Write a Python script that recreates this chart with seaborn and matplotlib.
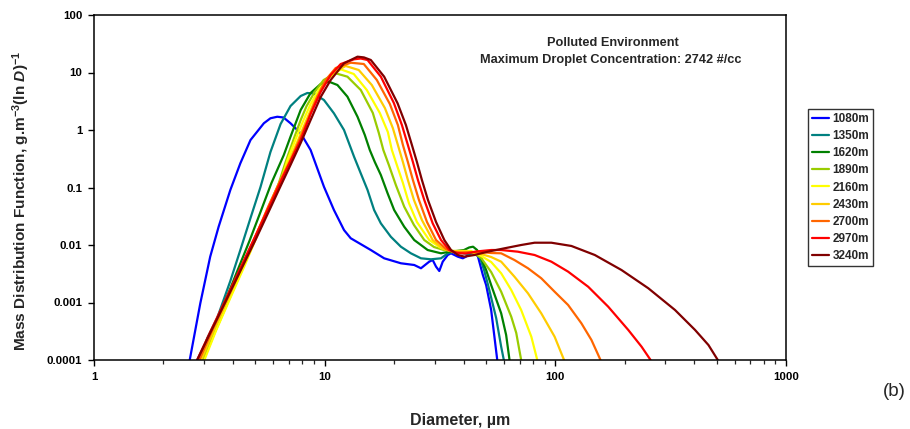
import matplotlib
matplotlib.use("Agg")
import matplotlib.pyplot as plt
import pandas as pd
import seaborn as sns
from matplotlib.ticker import FixedLocator, NullFormatter, NullLocator

# Altitude labels and their line colours
altitudes = ["1080m", "1350m", "1620m", "1890m", "2160m", "2430m", "2700m", "2970m", "3240m"]
colors = ["#0000FF", "#008080", "#008000", "#99CC00", "#FFFF00",
          "#FFCC00", "#FF6600", "#FF0000", "#800000"]

# Diameter (um) and mass distribution function (g m^-3 (ln D)^-1) per altitude
d_1080 = [2.6, 2.89, 3.19, 3.47, 3.90, 4.31, 4.77, 5.45, 5.82, 6.23, 6.63, 7.11, 7.87, 8.69, 9.93,
          10.97, 12.13, 12.97, 15.85, 18.11, 21.4, 24.45, 26.15, 28.4, 29.4, 30.4, 31.4, 32.5,
          34.16, 35.3, 37.76, 39.7, 41.0, 43.13, 46.12, 48.5, 50.12, 52.7, 56.0]
m_1080 = [1e-4, 9.7e-4, 6.27e-3, 0.0208, 0.0906, 0.264, 0.670, 1.31, 1.60, 1.70, 1.65, 1.31, 0.877,
          0.449, 0.103, 0.0406, 0.0182, 0.0131, 0.00818, 0.00587, 0.00481, 0.00449, 0.00394,
          0.00513, 0.00548, 0.0042, 0.00353, 0.00513, 0.0067, 0.00717, 0.00627, 0.00587, 0.00627,
          0.00755, 0.00645, 0.00301, 0.00201, 0.00074, 1e-4]

d_1350 = [2.86, 3.10, 3.42, 3.90, 4.31, 4.77, 5.27, 5.82, 6.44, 7.11, 7.87, 8.41, 8.98, 9.93,
          10.97, 12.13, 13.41, 14.34, 15.34, 16.38, 17.52, 19.36, 21.4, 23.65, 26.15, 28.9,
          31.94, 34.16, 36.0, 39.03, 42.3, 44.9, 47.2, 49.1, 51.1, 55.4, 58.24, 59.8]
m_1350 = [1e-4, 2.41e-4, 5.37e-4, 2.37e-3, 8.18e-3, 0.0295, 0.102, 0.414, 1.27, 2.61, 3.90, 4.40,
          4.31, 3.32, 1.95, 1.0, 0.343, 0.176, 0.0906, 0.0406, 0.0238, 0.0139, 0.00934, 0.00717,
          0.00587, 0.00564, 0.00587, 0.00717, 0.00755, 0.00726, 0.00696, 0.00726, 0.00594,
          0.00367, 0.00201, 5.37e-4, 1.70e-4, 1e-4]

d_1620 = [2.92, 3.26, 3.71, 4.18, 4.72, 5.27, 5.88, 6.65, 7.11, 7.87, 8.69, 9.61, 10.44, 11.36,
          12.55, 13.88, 14.93, 15.69, 16.50, 17.52, 18.74, 20.01, 22.12, 24.45, 27.96, 31.94,
          34.7, 37.5, 40.2, 42.3, 44.0, 45.8, 47.68, 50.12, 52.7, 58.24, 61.2, 63.3]
m_1620 = [1e-4, 2.95e-4, 1.06e-3, 3.53e-3, 0.01175, 0.0375, 0.120, 0.367, 0.764, 2.23, 4.40,
          6.31, 6.92, 6.06, 3.80, 1.70, 0.818, 0.449, 0.277, 0.165, 0.0793, 0.0406, 0.0208,
          0.0122, 0.00818, 0.00717, 0.00765, 0.00787, 0.00818, 0.00906, 0.00934, 0.00818,
          0.00594, 0.00367, 0.00201, 6.48e-4, 2.72e-4, 1e-4]

d_1890 = [2.98, 3.36, 3.86, 4.44, 5.06, 5.71, 6.31, 6.77, 7.37, 7.87, 8.35, 9.05, 9.90, 11.16,
          12.55, 14.34, 16.17, 17.17, 17.96, 18.98, 20.36, 22.12, 24.38, 27.03, 29.78, 32.9,
          36.0, 39.8, 43.13, 47.68, 52.7, 58.24, 64.4, 67.7, 71.1]
m_1890 = [1e-4, 3.19e-4, 1.15e-3, 4.14e-3, 0.01436, 0.0439, 0.115, 0.277, 0.726, 1.49, 2.61,
          4.58, 7.41, 9.69, 8.46, 4.96, 1.98, 0.887, 0.449, 0.246, 0.110, 0.0464, 0.0223,
          0.0122, 0.00923, 0.00818, 0.00787, 0.00787, 0.00771, 0.00594, 0.00339, 1.54e-3,
          5.66e-4, 2.95e-4, 1e-4]

d_2160 = [3.01, 3.39, 3.90, 4.49, 5.11, 5.77, 6.44, 6.90, 7.52, 8.10, 8.69, 9.42, 10.41, 11.74,
          13.37, 15.23, 17.34, 18.79, 19.56, 20.56, 21.84, 23.18, 25.12, 28.4, 31.94, 35.3,
          39.03, 43.13, 47.68, 52.7, 58.24, 64.4, 71.1, 78.7, 83.5]
m_2160 = [1e-4, 3.33e-4, 1.20e-3, 4.31e-3, 0.0149, 0.0476, 0.125, 0.301, 0.726, 1.49, 2.83,
          4.96, 8.02, 11.37, 9.42, 4.96, 1.98, 0.922, 0.449, 0.246, 0.120, 0.0537, 0.0251,
          0.0122, 0.00887, 0.00787, 0.00787, 0.00787, 0.00645, 0.00506, 3.22e-3, 1.65e-3,
          7.41e-4, 2.54e-4, 1e-4]

d_2430 = [2.92, 3.32, 3.86, 4.44, 5.11, 5.77, 6.44, 7.04, 7.67, 8.27, 8.96, 9.80, 10.83, 12.34,
          14.05, 16.01, 18.24, 19.75, 20.77, 21.84, 22.95, 24.38, 26.4, 29.4, 32.6, 35.3, 39.03,
          43.13, 47.68, 52.7, 58.24, 66.5, 76.1, 86.9, 99.3, 109.1]
m_2430 = [1e-4, 3.46e-4, 1.30e-3, 4.68e-3, 0.0168, 0.0516, 0.135, 0.301, 0.670, 1.38, 2.95,
          5.82, 9.80, 12.97, 11.05, 6.06, 2.41, 1.08, 0.548, 0.277, 0.135, 0.0607, 0.0272,
          0.0122, 0.00851, 0.00787, 0.00771, 0.00755, 0.00696, 0.00618, 5.13e-3, 2.81e-3,
          1.445e-3, 6.48e-4, 2.54e-4, 1e-4]

d_2700 = [2.86, 3.26, 3.79, 4.40, 5.06, 5.71, 6.44, 7.19, 7.83, 8.52, 9.23, 10.10, 11.16, 12.97,
          14.78, 16.83, 19.17, 20.77, 21.84, 22.95, 24.13, 25.63, 27.77, 30.4, 33.6, 36.0, 39.03,
          43.13, 47.68, 52.7, 58.24, 66.5, 76.1, 86.9, 99.3, 113.6, 129.7, 143.4, 157.0]
m_2700 = [1e-4, 3.33e-4, 1.20e-3, 4.49e-3, 0.0155, 0.0476, 0.135, 0.326, 0.726, 1.62, 3.60,
          7.41, 11.97, 14.8, 14.05, 7.41, 2.83, 1.22, 0.548, 0.277, 0.135, 0.0607, 0.0251,
          0.0122, 0.00851, 0.00755, 0.00741, 0.00755, 0.00755, 0.00726, 0.00717, 5.48e-3,
          3.94e-3, 2.64e-3, 1.54e-3, 9.05e-4, 4.35e-4, 2.23e-4, 1e-4]

d_2970 = [2.80, 3.19, 3.71, 4.31, 5.01, 5.71, 6.44, 7.11, 7.87, 8.69, 9.61, 10.62, 11.74, 13.41,
          14.34, 15.34, 17.52, 19.95, 21.62, 22.95, 24.13, 25.37, 27.03, 29.4, 31.94, 34.7, 37.5,
          41.0, 45.4, 52.7, 58.24, 68.8, 81.3, 96.1, 113.6, 138.8, 169.5, 207.1, 236.6, 258.8]
m_2970 = [1e-4, 3.07e-4, 1.10e-3, 3.98e-3, 0.01436, 0.0439, 0.125, 0.289, 0.670, 1.90, 4.58,
          9.05, 14.05, 16.98, 17.5, 16.5, 8.46, 2.95, 1.22, 0.548, 0.277, 0.135, 0.0607, 0.0238,
          0.0122, 0.00818, 0.00726, 0.00711, 0.00771, 0.00818, 0.00818, 7.65e-3, 6.70e-3,
          5.13e-3, 3.44e-3, 1.88e-3, 8.46e-4, 3.33e-4, 1.70e-4, 1e-4]

d_3240 = [2.80, 3.19, 3.71, 4.31, 5.01, 5.71, 6.44, 7.11, 7.87, 8.69, 9.61, 10.62, 12.13, 13.88,
          14.8, 15.85, 18.11, 20.71, 22.5, 23.89, 25.12, 26.4, 28.04, 30.4, 33.02, 35.3, 37.76,
          40.34, 44.58, 50.97, 60.2, 71.1, 81.3, 96.1, 117.4, 148.3, 193.6, 252.9, 330.2, 403.4,
          461.2, 506.2]
m_3240 = [1e-4, 2.95e-4, 1.02e-3, 3.53e-3, 0.0122, 0.0375, 0.106, 0.246, 0.594, 1.49, 3.75,
          7.41, 14.45, 18.84, 18.3, 16.5, 8.46, 2.91, 1.22, 0.548, 0.277, 0.135, 0.0607, 0.0251,
          0.0122, 0.00818, 0.0067, 0.00627, 0.0067, 0.00765, 0.00876, 0.01, 0.01096, 0.01096,
          0.00962, 0.0067, 0.00367, 0.00177, 7.41e-4, 3.33e-4, 1.82e-4, 1e-4]

diameters = [d_1080, d_1350, d_1620, d_1890, d_2160, d_2430, d_2700, d_2970, d_3240]
mass = [m_1080, m_1350, m_1620, m_1890, m_2160, m_2430, m_2700, m_2970, m_3240]

y_ticks = [1e-4, 1e-3, 1e-2, 1e-1, 1, 10, 100]
y_tick_labels = ["0.0001", "0.001", "0.01", "0.1", "1", "10", "100"]
x_ticks = [1, 10, 100, 1000]
x_tick_labels = ["1", "10", "100", "1000"]

rows = []
for alt, ds, ms in zip(altitudes, diameters, mass):
    for d, m in zip(ds, ms):
        rows.append({"Diameter": d, "MDF": m, "Altitude": alt})
df = pd.DataFrame(rows)

sns.set_style("ticks")
plt.rcParams["font.family"] = ["Liberation Sans", "DejaVu Sans"]
plt.rcParams["mathtext.fontset"] = "custom"
plt.rcParams["mathtext.rm"] = "Liberation Sans:bold"
plt.rcParams["mathtext.bf"] = "Liberation Sans:bold"
plt.rcParams["mathtext.it"] = "Liberation Sans:italic:bold"

fig = plt.figure(figsize=(9.1, 4.29), dpi=100)
W, H = 910, 429
ax = fig.add_axes([94 / W, 1 - 360 / H, 692 / W, 345 / H])

sns.lineplot(data=df, x="Diameter", y="MDF", hue="Altitude", hue_order=altitudes,
             palette=colors, estimator=None, errorbar=None, sort=False,
             linewidth=1.6, ax=ax)

ax.set_xscale("log")
ax.set_yscale("log")
ax.set_xlim(1, 1000)
ax.set_ylim(1e-4, 100)

ax.yaxis.set_major_locator(FixedLocator(y_ticks))
ax.set_yticklabels(y_tick_labels)
ax.yaxis.set_minor_locator(NullLocator())
ax.xaxis.set_major_locator(FixedLocator(x_ticks))
ax.set_xticklabels(x_tick_labels)
minor_x = [k * 10 ** e for e in range(0, 3) for k in range(2, 10)]
ax.xaxis.set_minor_locator(FixedLocator(minor_x))
ax.xaxis.set_minor_formatter(NullFormatter())

for lab in ax.get_xticklabels() + ax.get_yticklabels():
    lab.set_fontweight("bold")
ax.tick_params(axis="both", which="major", direction="out", length=4, width=1.0,
               labelsize=8.2, colors="black")
ax.tick_params(axis="y", which="major", pad=4.3)
ax.tick_params(axis="x", which="major", pad=5)
ax.tick_params(axis="x", which="minor", direction="out", length=3, width=0.9)

for sp in ax.spines.values():
    sp.set_visible(True)
    sp.set_linewidth(1.1)
    sp.set_color("black")

ax.set_xlabel("")
ax.set_ylabel("")
fig.text(460 / W, 1 - 420 / H, "Diameter, \u00b5m", ha="center", va="center",
         fontsize=11.5, fontweight="bold")
fig.text(21 / W, 1 - 201 / H,
         "Mass Distribution Function, g.m$^{-3}$(ln $\\mathit{D}$)$^{-1}$",
         rotation=90, ha="center", va="center", fontsize=11.1, fontweight="bold")
fig.text(894 / W, 1 - 391 / H, "(b)", ha="center", va="center", fontsize=13.5)

fig.text(613 / W, 1 - 43 / H, "Polluted Environment", ha="center", va="center",
         fontsize=9.2, fontweight="bold")
fig.text(611 / W, 1 - 60 / H, "Maximum Droplet Concentration: 2742 #/cc", ha="center",
         va="center", fontsize=9.2, fontweight="bold")

handles, labels = ax.get_legend_handles_labels()
ax.get_legend().remove()
leg = fig.legend(handles, labels, loc="upper left",
                 bbox_to_anchor=(808 / W, 1 - 109 / H), bbox_transform=fig.transFigure,
                 borderaxespad=0, frameon=True, fancybox=False, shadow=False,
                 handlelength=1.45, handletextpad=0.3, labelspacing=0.44, borderpad=0.32,
                 prop={"weight": "bold", "size": 8.5})
leg.get_frame().set_edgecolor("black")
leg.get_frame().set_linewidth(1.0)
for line in leg.get_lines():
    line.set_linewidth(1.6)

fig.savefig("out.png", dpi=100)
